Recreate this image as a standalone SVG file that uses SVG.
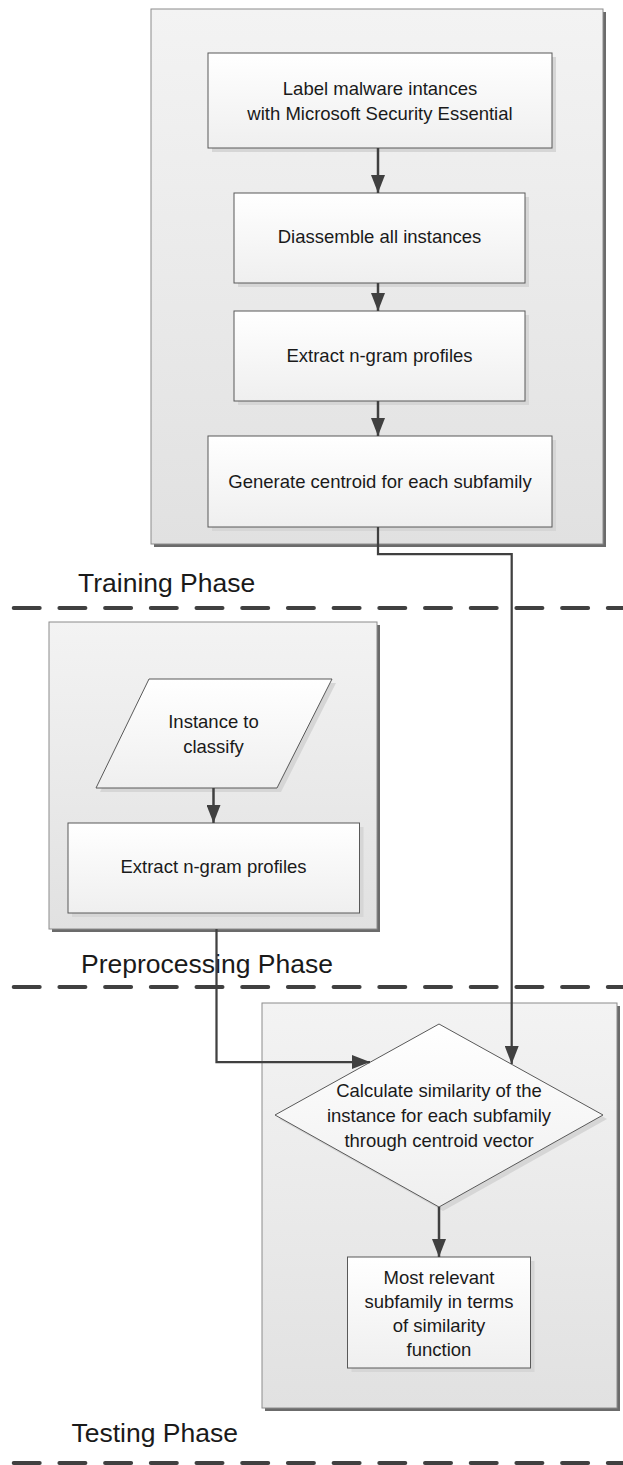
<svg xmlns="http://www.w3.org/2000/svg" width="623" height="1465" viewBox="0 0 623 1465">
<defs>
<linearGradient id="gCont" x1="0" y1="0" x2="0" y2="1">
<stop offset="0" stop-color="#f3f3f3"/>
<stop offset="1" stop-color="#e1e1e1"/>
</linearGradient>
<linearGradient id="gBox" x1="0" y1="0" x2="0" y2="1">
<stop offset="0" stop-color="#ffffff"/>
<stop offset="1" stop-color="#efefef"/>
</linearGradient>
<marker id="arr" viewBox="0 0 18 14" refX="18" refY="7" markerWidth="18" markerHeight="14" markerUnits="userSpaceOnUse" orient="auto">
<path d="M0,0 L18,7 L0,14 Z" fill="#404040"/>
</marker>
</defs>
<style>
.cshadow{fill:#6b6b6b}
.cont{fill:url(#gCont);stroke:#8c8c8c;stroke-width:1}
.bshadow{fill:#d6d6d6}
.box{fill:url(#gBox);stroke:#595959;stroke-width:1}
.t{font-family:"Liberation Sans",Arial,sans-serif;font-size:18.5px;fill:#1a1a1a;text-anchor:middle}
.ph{font-family:"Liberation Sans",Arial,sans-serif;font-size:26.5px;fill:#1a1a1a}
.dash{stroke:#404040;stroke-width:4;stroke-linecap:round;stroke-dasharray:26 19.7;fill:none}
.ar{stroke:#404040;stroke-width:2.5;fill:none}
.cn{stroke:#404040;stroke-width:2.25;fill:none}
</style>

<g id="dividers">
<line class="dash" x1="13.7" y1="608" x2="623" y2="608"/>
<line class="dash" x1="13.7" y1="987" x2="623" y2="987"/>
<line class="dash" x1="13.7" y1="1463" x2="623" y2="1463"/>
</g>

<g id="training-phase">
<rect class="cshadow" x="154" y="12" width="452" height="535"/>
<rect class="cont" x="151" y="9" width="452" height="535"/>
<text class="ph" x="78" y="592">Training Phase</text>
</g>

<g id="preprocessing-phase">
<rect class="cshadow" x="52" y="625" width="328" height="307"/>
<rect class="cont" x="49" y="622" width="328" height="307"/>
<text class="ph" x="81" y="973">Preprocessing Phase</text>
</g>

<g id="testing-phase">
<rect class="cshadow" x="265" y="1006" width="355" height="405"/>
<rect class="cont" x="262" y="1003" width="355" height="405"/>
<text class="ph" x="71.5" y="1442">Testing Phase</text>
</g>

<g id="label-instances">
<rect class="bshadow" x="212" y="57" width="344" height="95"/>
<rect class="box" x="208" y="53" width="344" height="95"/>
<text class="t" x="380" y="95">Label malware intances</text>
<text class="t" x="380" y="120">with Microsoft Security Essential</text>
</g>

<g id="disassemble">
<rect class="bshadow" x="238" y="197" width="291" height="90"/>
<rect class="box" x="234" y="193" width="291" height="90"/>
<text class="t" x="379.5" y="243">Diassemble all instances</text>
</g>

<g id="extract-train">
<rect class="bshadow" x="238" y="315" width="291" height="90"/>
<rect class="box" x="234" y="311" width="291" height="90"/>
<text class="t" x="379.5" y="362">Extract n-gram profiles</text>
</g>

<g id="centroid">
<rect class="bshadow" x="212" y="440" width="344" height="91"/>
<rect class="box" x="208" y="436" width="344" height="91"/>
<text class="t" x="380" y="488">Generate centroid for each subfamily</text>
</g>

<g id="instance-input">
<polygon class="bshadow" points="153,683 336,683 281,792 100,792"/>
<polygon class="box" points="149,679 332,679 277,788 96,788"/>
<text class="t" x="213.5" y="728">Instance to</text>
<text class="t" x="213.5" y="753">classify</text>
</g>

<g id="extract-test">
<rect class="bshadow" x="72" y="827" width="291.5" height="90"/>
<rect class="box" x="68" y="823" width="291.5" height="90"/>
<text class="t" x="213.5" y="873">Extract n-gram profiles</text>
</g>

<g id="similarity">
<polygon class="bshadow" points="443,1028 607,1119 443,1211 279,1119"/>
<polygon class="box" points="439,1024 603,1115 439,1207 275,1115"/>
<text class="t" x="439" y="1097">Calculate similarity of the</text>
<text class="t" x="439" y="1122">instance for each subfamily</text>
<text class="t" x="439" y="1147">through centroid vector</text>
</g>

<g id="result">
<rect class="bshadow" x="351.5" y="1261" width="183" height="111"/>
<rect class="box" x="347.5" y="1257" width="183" height="111"/>
<text class="t" x="439" y="1284">Most relevant</text>
<text class="t" x="439" y="1308">subfamily in terms</text>
<text class="t" x="439" y="1332">of similarity</text>
<text class="t" x="439" y="1356">function</text>
</g>

<g id="connectors">
<line class="ar" x1="378" y1="148" x2="378" y2="193" marker-end="url(#arr)"/>
<line class="ar" x1="378" y1="283" x2="378" y2="311" marker-end="url(#arr)"/>
<line class="ar" x1="378" y1="401" x2="378" y2="436" marker-end="url(#arr)"/>
<line class="ar" x1="213.5" y1="788" x2="213.5" y2="823" marker-end="url(#arr)"/>
<line class="ar" x1="439" y1="1207" x2="439" y2="1257" marker-end="url(#arr)"/>
<path class="cn" d="M378,527 V554 H511.7 V1064" marker-end="url(#arr)"/>
<path class="cn" d="M216.5,929 V1062 H370" marker-end="url(#arr)"/>
</g>
</svg>
